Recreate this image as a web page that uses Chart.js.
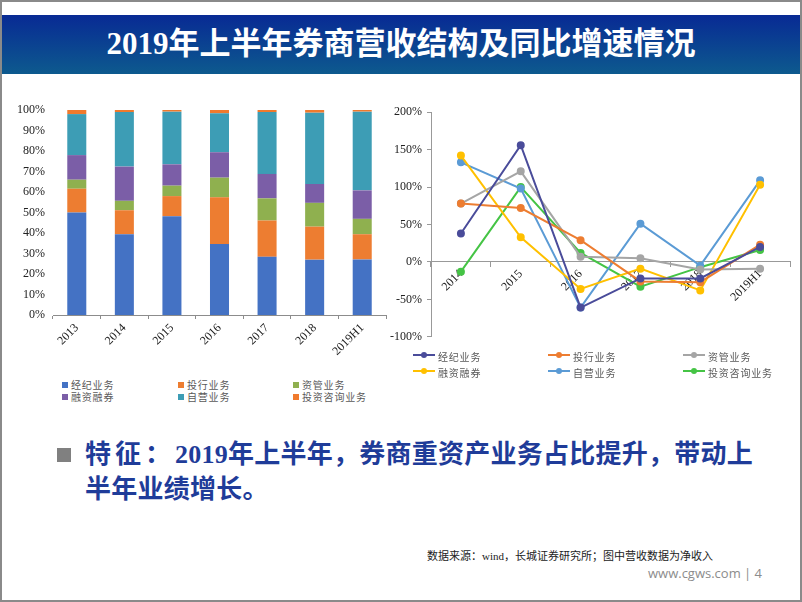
<!DOCTYPE html>
<html lang="zh-CN">
<head>
<meta charset="utf-8">
<title>2019年上半年券商营收结构及同比增速情况</title>
<script src="https://cdn.jsdelivr.net/npm/chart.js@4.4.1/dist/chart.umd.min.js"></script>
<style>
  html, body { margin: 0; padding: 0; background: #fff; }
  .slide { position: relative; width: 802px; height: 602px; overflow: hidden; background: #fff; }
  .frame { position: absolute; left: 0; top: 0; width: 802px; height: 602px; box-sizing: border-box; border: 2px solid #8a8a8a; pointer-events: none; }
  .header {
    position: absolute; left: 0; top: 15px; width: 802px; height: 59px;
    background: linear-gradient(#082a94, #0d5a8e);
    color: #fff; text-align: center;
    font: bold 31px/58px "Liberation Serif", "Noto Sans CJK SC", serif;
  }
  .chart-box { position: absolute; }
  #structureBox { left: 0; top: 100px; width: 395px; height: 265px; }
  #growthBox { left: 380px; top: 100px; width: 420px; height: 249px; }
  .legend-item {
    position: absolute; height: 12px; line-height: 12px; white-space: nowrap;
    font: 10px "Noto Sans CJK SC", sans-serif; letter-spacing: 0.8px; color: #595959;
  }
  .legend-square { display: inline-block; width: 6px; height: 6px; margin-right: 3px; vertical-align: 1px; }
  .legend-line { display: inline-block; position: relative; width: 22px; height: 12px; margin-right: 3px; vertical-align: top; }
  .legend-line i { position: absolute; left: 0; top: 5px; width: 22px; height: 2px; }
  .legend-line b { position: absolute; left: 8px; top: 3px; width: 6px; height: 6px; border-radius: 50%; }
  .bullet { position: absolute; left: 57px; top: 448px; width: 14px; height: 14px; background: #808080; }
  .point {
    position: absolute; left: 85px; top: 437px; white-space: nowrap; letter-spacing: 0.25px;
    font: bold 26px/35px "Liberation Serif", "Noto Sans CJK SC", serif; color: #1f3c99;
  }
  .point .lead { letter-spacing: 4px; }
  .source { position: absolute; left: 427px; top: 549px; font: 11px/14px "Liberation Serif", "Noto Sans CJK SC", serif; color: #222; }
  .site { position: absolute; left: 648px; top: 565px; font: 13px/16px "Open Sans", sans-serif; color: #8c8c8c; }
</style>
</head>
<body>
<div class="slide">
  <div class="header">2019年上半年券商营收结构及同比增速情况</div>
  <div class="chart-box" id="structureBox"><canvas id="structureChart"></canvas></div>
  <div class="chart-box" id="growthBox"><canvas id="growthChart"></canvas></div>
  <div id="structureLegend"></div>
  <div id="growthLegend"></div>
  <div class="bullet"></div>
  <div class="point"><span class="lead">特征：</span>2019年上半年，券商重资产业务占比提升，带动上<br>半年业绩增长。</div>
  <div class="source">数据来源：wind，长城证券研究所；图中营收数据为净收入</div>
  <div class="site">www.cgws.com | 4</div>
  <div class="frame"></div>
</div>
<script>
const barYears = ["2013", "2014", "2015", "2016", "2017", "2018", "2019H1"];
const growthYears = ["2014", "2015", "2016", "2017", "2018", "2019H1"];
const businessNames = ["经纪业务", "投行业务", "资管业务", "融资融券", "自营业务", "投资咨询业务"];

// 营收结构（占比 %）
const shareBrokerage = [50.0, 39.4, 48.2, 34.6, 28.4, 27.0, 27.1];
const shareInvBanking = [11.6, 11.7, 9.8, 22.8, 17.7, 16.1, 12.3];
const shareAssetMgmt = [4.4, 4.6, 5.1, 9.6, 10.8, 11.6, 7.5];
const shareMargin = [12.0, 16.7, 10.4, 12.4, 11.9, 9.2, 13.9];
const shareProprietary = [20.0, 26.6, 25.7, 19.0, 30.2, 34.8, 38.4];
const shareAdvisory = [2.0, 1.0, 0.8, 1.6, 1.0, 1.3, 0.8];

// 同比增速（%）
const growthBrokerage = [38, 156, -61, -22, -22, 20];
const growthInvBanking = [78, 72, 29, -26, -27, 23];
const growthAssetMgmt = [78, 121, 7, 5, -10, -9];
const growthMargin = [142, 33, -36, -9, -38, 103];
const growthProprietary = [133, 98, -61, 51, -5, 109];
const growthAdvisory = [-13, 100, 12, -33, -7, 16];

const structureTicks = [0, 10, 20, 30, 40, 50, 60, 70, 80, 90, 100];
const growthTicks = [-100, -50, 0, 50, 100, 150, 200];

const barColors = ["#4472c4", "#ed7d31", "#8fb04f", "#7b5ea7", "#3d9db5", "#f07a2d"];
const lineColors = ["#4a4c9a", "#ed7d31", "#a5a5a5", "#ffc000", "#5b9bd5", "#45c445"];

const axisFont = { family: "'Liberation Serif', serif", size: 12 };

/**
 * Gráfico de barras apiladas: estructura de ingresos
 */
function crearGraficoEstructura() {
  const series = [shareBrokerage, shareInvBanking, shareAssetMgmt, shareMargin, shareProprietary, shareAdvisory];
  const ctx = document.getElementById("structureChart").getContext("2d");

  return new Chart(ctx, {
    type: "bar",
    data: {
      labels: barYears,
      datasets: series.map((values, i) => ({
        label: businessNames[i],
        data: values,
        backgroundColor: barColors[i],
        categoryPercentage: 1,
        barPercentage: 0.4,
      })),
    },
    options: {
      responsive: true,
      maintainAspectRatio: false,
      animation: false,
      layout: { padding: { top: 10, right: 9, left: 0, bottom: 0 } },
      plugins: { legend: { display: false }, tooltip: { enabled: false } },
      scales: {
        x: {
          stacked: true,
          border: { color: "#8c8c8c" },
          grid: { drawOnChartArea: false, drawTicks: true, tickLength: 4, offset: true, color: "#8c8c8c" },
          ticks: { font: axisFont, color: "#222", minRotation: 45, maxRotation: 45, padding: 2 },
          afterFit: function (scale) { scale.height = 50; },
        },
        y: {
          stacked: true,
          min: 0,
          max: 100,
          border: { display: false },
          // sin líneas, pero la longitud de marca separa las etiquetas del eje
          grid: { display: false, drawTicks: true, tickLength: 8 },
          afterBuildTicks: function (scale) { scale.ticks = structureTicks.map((v) => ({ value: v })); },
          ticks: {
            font: axisFont,
            color: "#222",
            padding: 0,
            callback: function (value) { return value + "%"; },
          },
          afterFit: function (scale) { scale.width = 53; },
        },
      },
    },
  });
}

/**
 * Gráfico de líneas: crecimiento interanual
 */
function crearGraficoCrecimiento() {
  const series = [growthBrokerage, growthInvBanking, growthAssetMgmt, growthMargin, growthProprietary, growthAdvisory];
  const ctx = document.getElementById("growthChart").getContext("2d");

  return new Chart(ctx, {
    type: "line",
    data: {
      labels: growthYears,
      datasets: series.map((values, i) => ({
        label: businessNames[i],
        data: values,
        borderColor: lineColors[i],
        backgroundColor: lineColors[i],
        borderWidth: 2,
        pointRadius: 3,
        tension: 0,
      })),
    },
    options: {
      responsive: true,
      maintainAspectRatio: false,
      animation: false,
      layout: { padding: { top: 12, right: 10, left: 0, bottom: 0 } },
      plugins: { legend: { display: false }, tooltip: { enabled: false } },
      scales: {
        x: {
          position: { y: 0 },
          offset: true,
          border: { color: "#999" },
          grid: { drawOnChartArea: false, drawTicks: true, tickLength: 5, offset: true, color: "#999" },
          ticks: { font: axisFont, color: "#222", minRotation: 45, maxRotation: 45, padding: 0 },
        },
        y: {
          min: -100,
          max: 200,
          border: { color: "#999" },
          grid: { drawOnChartArea: false, drawTicks: true, tickLength: 4, color: "#999" },
          afterBuildTicks: function (scale) { scale.ticks = growthTicks.map((v) => ({ value: v })); },
          ticks: {
            font: axisFont,
            color: "#222",
            padding: 5,
            callback: function (value) { return value + "%"; },
          },
          afterFit: function (scale) { scale.width = 51; },
        },
      },
    },
  });
}

/**
 * Leyendas en HTML, tres columnas como en el original
 */
function crearLeyendas() {
  const squareCols = [62, 178, 293];
  const squareRows = [377, 389];
  const lineCols = [413, 548, 683];
  const lineRows = [349, 365];
  const left = document.getElementById("structureLegend");
  const right = document.getElementById("growthLegend");

  businessNames.forEach((name, i) => {
    const col = i % 3;
    const row = Math.floor(i / 3);

    const a = document.createElement("div");
    a.className = "legend-item";
    a.style.left = squareCols[col] + "px";
    a.style.top = squareRows[row] + "px";
    a.innerHTML = '<span class="legend-square" style="background:' + barColors[i] + '"></span>' + name;
    left.appendChild(a);

    const b = document.createElement("div");
    b.className = "legend-item";
    b.style.left = lineCols[col] + "px";
    b.style.top = lineRows[row] + "px";
    b.innerHTML = '<span class="legend-line"><i style="background:' + lineColors[i] + '"></i><b style="background:' +
      lineColors[i] + '"></b></span>' + name;
    right.appendChild(b);
  });
}

crearGraficoEstructura();
crearGraficoCrecimiento();
crearLeyendas();
</script>
</body>
</html>
